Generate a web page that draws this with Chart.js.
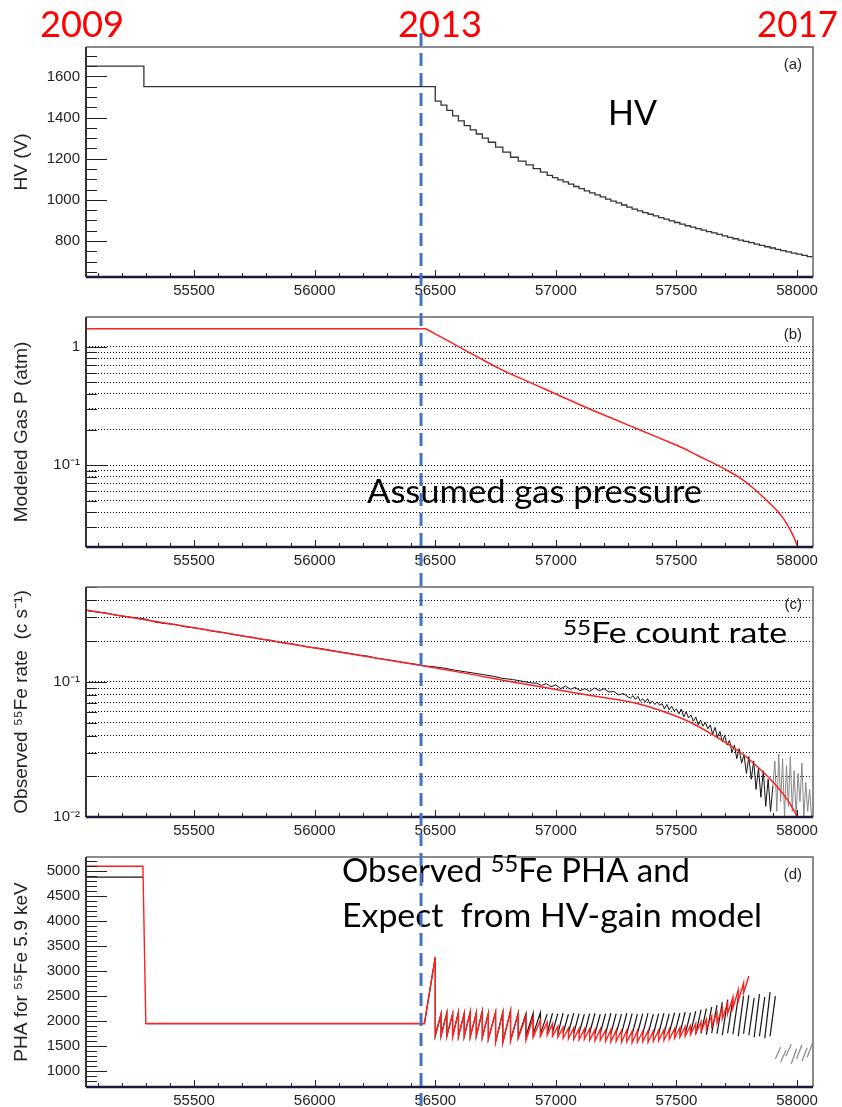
<!DOCTYPE html>
<html>
<head>
<meta charset="utf-8">
<script src="https://cdn.jsdelivr.net/npm/chart.js@4.4.1/dist/chart.umd.min.js"></script>
<style>
  html, body { margin: 0; padding: 0; background: #fff; overflow: hidden; }
  #page { position: relative; width: 842px; height: 1107px; }
  #page canvas { position: absolute; left: 0; }
  #overlay { top: 0; pointer-events: none; }
</style>
</head>
<body>
<div id="page">
  <canvas id="hvChart" width="842" height="270" style="top:32px"></canvas>
  <canvas id="gasChart" width="842" height="270" style="top:302px"></canvas>
  <canvas id="rateChart" width="842" height="270" style="top:572px"></canvas>
  <canvas id="phaChart" width="842" height="270" style="top:842px"></canvas>
  <canvas id="overlay" width="842" height="1107"></canvas>
</div>
<script>
// 공통 x축 (MJD)
var mjdMin = 55052, mjdMax = 58066;
var mjdTicks = [55500, 56000, 56500, 57000, 57500, 58000];
var leakStartMjd = 56441; // 파란 점선 (2013)

// (a) HV
var hvStartMjd = [55052, 55292];
var hvStartVolt = [1650, 1550];
var gainStepMjd = [56500, 56524, 56548, 56572, 56596, 56620, 56645, 56670, 56695, 56720,
  56750, 56780, 56812, 56844, 56876, 56906, 56936, 56964, 56986, 57008,
  57030, 57052, 57074, 57096, 57118, 57140, 57162, 57184, 57206, 57228,
  57250, 57272, 57294, 57316, 57338, 57360, 57382, 57404, 57426, 57448,
  57470, 57492, 57514, 57536, 57558, 57580, 57602, 57624, 57646, 57668,
  57690, 57712, 57734, 57756, 57778, 57800, 57822, 57844, 57866, 57888,
  57910, 57932, 57954, 57976, 57998, 58020, 58042, 58064];
var hvStepVolt = [1480, 1460, 1435, 1408, 1384, 1361, 1340, 1320, 1300, 1280,
  1256, 1232, 1207, 1188, 1170, 1152, 1135, 1119, 1108, 1097,
  1087, 1076, 1065, 1055, 1044, 1034, 1024, 1014, 1004, 994,
  985, 975, 965, 955, 946, 938, 930, 922, 914, 906,
  898, 890, 882, 874, 867, 860, 853, 846, 839, 832,
  825, 818, 811, 804, 798, 792, 785, 779, 772, 766,
  759, 753, 747, 741, 736, 730, 724, 720];
var hvTicks = [800, 1000, 1200, 1400, 1600];

// (b) 가스 압력 모델
var gasMjd = [55052, 56461, 56565, 56680, 56772, 56880, 56993, 57131, 57230, 57324, 57420, 57504,
  57590, 57670, 57720, 57766, 57810, 57849, 57885, 57918, 57945, 57966, 57985, 58003];
var gasAtm = [1.42, 1.42, 1.088, 0.81, 0.645, 0.513, 0.405, 0.304, 0.250, 0.208, 0.1725, 0.1466,
  0.120, 0.100, 0.088, 0.0774, 0.066, 0.0563, 0.048, 0.041, 0.035, 0.0298, 0.025, 0.0203];
var gasGridAtm = [0.03, 0.04, 0.05, 0.06, 0.07, 0.08, 0.09, 0.1, 0.2, 0.3, 0.4, 0.5, 0.6, 0.7, 0.8, 0.9, 1];
var gasLabelAtm = [0.1, 1];
var gasLabelText = ['10⁻¹', '1'];

// (c) 55Fe count rate
var rateModelMjd = [55052, 55500, 56000, 56441, 56634, 56814, 56966, 57131, 57324, 57449, 57559,
  57656, 57766, 57877, 57940, 57975, 58003];
var rateModelVal = [0.340, 0.251, 0.178, 0.132, 0.115, 0.100, 0.090, 0.080, 0.070, 0.060, 0.050,
  0.040, 0.030, 0.020, 0.0150, 0.0122, 0.0099];
var rateObsMjd = [55060, 55100, 55140, 55180, 55220, 55260, 55300, 55340, 55380, 55420,
  55460, 55500, 55540, 55580, 55620, 55660, 55700, 55740, 55780, 55820,
  55860, 55900, 55940, 55980, 56020, 56060, 56100, 56140, 56180, 56220,
  56260, 56300, 56340, 56380, 56420,
  56460, 56500, 56540, 56580, 56620, 56660, 56700, 56740, 56780, 56820, 56860, 56900,
  56920, 56940, 56960, 56980, 57000, 57020, 57040, 57060, 57080, 57100,
  57120, 57140, 57160, 57180, 57200, 57220, 57240, 57260, 57280, 57300,
  57310, 57320, 57330, 57340, 57350, 57360, 57370, 57380, 57390, 57400,
  57410, 57420, 57430, 57440, 57450, 57460, 57470, 57480, 57490, 57500,
  57510, 57520, 57530, 57540, 57550, 57560, 57570, 57580, 57590, 57600,
  57610, 57620, 57630, 57640, 57650, 57660, 57670, 57680, 57690, 57700,
  57710, 57720, 57730, 57740, 57750, 57760, 57770, 57780, 57790, 57800,
  57810, 57820, 57830, 57840, 57850, 57860, 57870, 57880, 57890, 57900];
var rateObsVal = [0.335, 0.328, 0.322, 0.310, 0.304, 0.297, 0.291, 0.276, 0.270, 0.266,
  0.256, 0.251, 0.245, 0.236, 0.232, 0.225, 0.218, 0.214, 0.206, 0.203,
  0.195, 0.192, 0.186, 0.180, 0.177, 0.172, 0.167, 0.163, 0.158, 0.155,
  0.149, 0.146, 0.142, 0.138, 0.135,
  0.131, 0.129, 0.126, 0.122, 0.119, 0.116, 0.113, 0.110, 0.106, 0.104, 0.101, 0.098,
  0.098, 0.094, 0.097, 0.092, 0.095, 0.089, 0.093, 0.088, 0.091, 0.086,
  0.089, 0.085, 0.090, 0.086, 0.089, 0.084, 0.085, 0.080, 0.082, 0.077,
  0.076, 0.079, 0.074, 0.078, 0.072, 0.075, 0.071, 0.075, 0.069, 0.072,
  0.068, 0.071, 0.067, 0.069, 0.063, 0.068, 0.062, 0.066, 0.061, 0.063,
  0.058, 0.063, 0.055, 0.060, 0.054, 0.057, 0.051, 0.055, 0.048, 0.052,
  0.047, 0.050, 0.045, 0.048, 0.041, 0.046, 0.039, 0.043, 0.036, 0.040,
  0.034, 0.037, 0.030, 0.034, 0.027, 0.032, 0.025, 0.029, 0.021, 0.028,
  0.019, 0.026, 0.016, 0.023, 0.014, 0.022, 0.012, 0.019, 0.011, 0.017];
var rateTailMjd = [57900, 57908, 57916, 57924, 57932, 57940, 57948, 57956, 57964, 57972,
  57980, 57988, 57996, 58004, 58012, 58020, 58028, 58036, 58044, 58052, 58060];
var rateTailVal = [0.017, 0.026, 0.011, 0.029, 0.013, 0.027, 0.010, 0.024, 0.012, 0.028,
  0.011, 0.022, 0.010, 0.021, 0.013, 0.025, 0.010, 0.018, 0.011, 0.016, 0.010];
var rateGridVal = [0.01, 0.02, 0.03, 0.04, 0.05, 0.06, 0.07, 0.08, 0.09, 0.1, 0.2, 0.3, 0.4];
var rateLabelVal = [0.01, 0.1];
var rateLabelText = ['10⁻²', '10⁻¹'];

// (d) PHA
var phaModelLeadMjd = [55052, 55288, 55300, 56455, 56500];
var phaModelLeadVal = [5090, 5090, 1955, 1955, 3280];
var phaModelLow = [1720, 1700, 1710, 1690, 1700, 1690, 1680, 1700, 1680, 1650,
  1580, 1570, 1600, 1660, 1620, 1680, 1700, 1720, 1700, 1680,
  1660, 1650, 1640, 1630, 1640, 1620, 1610, 1620, 1600, 1590,
  1600, 1580, 1590, 1570, 1580, 1590, 1580, 1600, 1610, 1620,
  1640, 1660, 1680, 1700, 1730, 1760, 1800, 1850, 1900, 1970,
  2050, 2150, 2260, 2400, 2560];
var phaModelHigh = [2150, 2160, 2150, 2170, 2160, 2180, 2170, 2190, 2160, 2170,
  2180, 2200, 2150, 2100, 2080, 2020, 1980, 1950, 1900, 1880,
  1860, 1870, 1850, 1840, 1850, 1830, 1840, 1820, 1830, 1820,
  1810, 1820, 1800, 1810, 1800, 1810, 1800, 1820, 1830, 1840,
  1850, 1870, 1890, 1910, 1950, 1990, 2040, 2100, 2170, 2260,
  2360, 2480, 2620, 2760, 2900];
var phaObsLeadMjd = [55052, 55288, 55294, 55300, 56455, 56500];
var phaObsLeadVal = [4870, 4870, null, 1950, 1950, 3280];
var phaObsLow = [1700, 1720, 1700, 1710, 1690, 1700, 1690, 1710, 1670, 1640,
  1590, 1580, 1620, 1680, 1700, 1740, 1750, 1760, 1770, 1750,
  1760, 1770, 1750, 1760, 1740, 1760, 1750, 1760, 1740, 1750,
  1760, 1740, 1750, 1730, 1750, 1740, 1750, 1730, 1750, 1740,
  1760, 1740, 1750, 1730, 1750, 1740, 1760, 1730, 1760, 1750,
  1720, 1760, 1740, 1700, 1750, 1720, 1680, 1700, 1660, 1700];
var phaObsHigh = [2140, 2170, 2140, 2180, 2150, 2190, 2160, 2200, 2150, 2180,
  2170, 2210, 2160, 2150, 2160, 2170, 2140, 2160, 2150, 2160,
  2140, 2160, 2150, 2140, 2150, 2160, 2140, 2150, 2160, 2150,
  2140, 2160, 2150, 2140, 2150, 2160, 2140, 2150, 2160, 2150,
  2170, 2160, 2180, 2170, 2200, 2230, 2250, 2280, 2320, 2380,
  2430, 2450, 2480, 2500, 2520, 2460, 2540, 2480, 2580, 2500];
var phaTailLow = [1250, 1180, 1300, 1150, 1250, 1200, 1280];
var phaTailHigh = [1480, 1420, 1540, 1450, 1530, 1470, 1560];
var phaTicks = [1000, 1500, 2000, 2500, 3000, 3500, 4000, 4500, 5000];

Chart.defaults.font.family = '"Liberation Sans", Arial, sans-serif';
Chart.defaults.color = '#222';

function zip(xs, ys) {
    return xs.map(function (x, i) { return {x: x, y: ys[i]}; });
}

// 톱니 모양: 스텝 시작 low -> 다음 스텝 직전 high
function teeth(first, low, high) {
    var pts = [];
    low.forEach(function (v, i) {
        pts.push({x: gainStepMjd[first + i], y: v});
        pts.push({x: gainStepMjd[first + i + 1], y: high[i]});
    });
    return pts;
}

function pickLabel(vals, texts) {
    return function (v) {
        for (var i = 0; i < vals.length; i++) {
            if (Math.abs(vals[i] - v) < vals[i] * 1e-6) return texts[i];
        }
        return '';
    };
}

function xScale() {
    return {
        type: 'linear', min: mjdMin, max: mjdMax,
        afterBuildTicks: function (s) { s.ticks = mjdTicks.map(function (v) { return {value: v}; }); },
        afterFit: function (s) { s.height = 25; },
        grid: {display: false, drawTicks: false},
        border: {display: false},
        ticks: {autoSkip: false, maxRotation: 0, padding: 5, font: {size: 15}, color: '#222',
            callback: function (v) { return String(v); }}
    };
}

function yScale(type, min, max, tickVals, labelFn, title, dotted) {
    return {
        type: type, min: min, max: max,
        afterBuildTicks: function (s) { s.ticks = tickVals.map(function (v) { return {value: v}; }); },
        afterFit: function (s) { s.width = 86; },
        grid: {display: dotted, color: '#000', lineWidth: 1, drawTicks: false},
        border: {display: false, dash: [1, 2]},
        ticks: {autoSkip: false, padding: 6, font: {size: 15}, color: '#222', callback: labelFn},
        title: {display: true, text: title, font: {size: 19}, color: '#222', padding: {top: 10, bottom: 0}}
    };
}

// 프레임 + 안쪽 눈금 + 패널 라벨
var frameTicks = {
    id: 'frameTicks',
    afterDraw: function (chart, args, opts) {
        var ctx = chart.ctx, a = chart.chartArea, x = chart.scales.x, y = chart.scales.y;
        var marks = [], v;
        if (opts.log) {
            for (var e = Math.floor(Math.log10(y.min)); e <= Math.ceil(Math.log10(y.max)); e++) {
                for (var k = 1; k <= 9; k++) {
                    v = k * Math.pow(10, e);
                    if (v >= y.min && v <= y.max) marks.push({v: v, major: k === 1});
                }
            }
        } else {
            for (v = Math.ceil(y.min / opts.minor) * opts.minor; v <= y.max; v += opts.minor) {
                marks.push({v: v, major: v % opts.major === 0});
            }
        }
        ctx.save();
        ctx.strokeStyle = '#222';
        ctx.lineWidth = 1;
        ctx.beginPath();
        for (v = Math.ceil(x.min / 100) * 100; v <= x.max; v += 100) {
            var px = Math.round(x.getPixelForValue(v)) + 0.5;
            ctx.moveTo(px, a.bottom);
            ctx.lineTo(px, a.bottom - (v % 500 === 0 ? 7 : 4));
        }
        marks.forEach(function (m) {
            var py = Math.round(y.getPixelForValue(m.v)) + 0.5;
            ctx.moveTo(a.left, py);
            ctx.lineTo(a.left + (m.major ? 21 : 11), py);
        });
        ctx.stroke();

        ctx.lineWidth = 1.5;
        ctx.strokeStyle = '#666';
        ctx.beginPath();
        ctx.moveTo(a.left, a.top);
        ctx.lineTo(a.right, a.top);
        ctx.lineTo(a.right, a.bottom);
        ctx.stroke();
        ctx.lineWidth = 2;
        ctx.strokeStyle = '#333';
        ctx.beginPath();
        ctx.moveTo(a.left, a.top);
        ctx.lineTo(a.left, a.bottom);
        ctx.stroke();
        ctx.lineWidth = 2.5;
        ctx.strokeStyle = '#1a1a3c';
        ctx.beginPath();
        ctx.moveTo(a.left, a.bottom);
        ctx.lineTo(a.right, a.bottom);
        ctx.stroke();

        ctx.fillStyle = '#222';
        ctx.font = '15px "Liberation Sans", Arial, sans-serif';
        ctx.textAlign = 'right';
        ctx.fillText(opts.label, a.right - 11, a.top + 22);
        ctx.restore();
    }
};

function baseOptions(frame) {
    return {
        responsive: false,
        animation: false,
        devicePixelRatio: 1,
        layout: {padding: {top: 10, right: 29, left: 0, bottom: 0}},
        elements: {point: {radius: 0}, line: {tension: 0}},
        plugins: {legend: {display: false}, tooltip: {enabled: false}, frameTicks: frame}
    };
}

// (a) HV
var hvOpts = baseOptions({label: '(a)', minor: 50, major: 200});
hvOpts.scales = {
    x: xScale(),
    y: yScale('linear', 625, 1743, hvTicks, function (v) { return String(v); }, 'HV (V)', false)
};
var hvChart = new Chart(document.getElementById('hvChart'), {
    type: 'line',
    data: {datasets: [{
        data: zip(hvStartMjd.concat(gainStepMjd), hvStartVolt.concat(hvStepVolt)),
        borderColor: '#333', borderWidth: 1.3, stepped: true
    }]},
    options: hvOpts,
    plugins: [frameTicks]
});

// (b) 가스 압력 (누설 시작점에서 꺾임)
var gasOpts = baseOptions({label: '(b)', log: true});
gasOpts.scales = {
    x: xScale(),
    y: yScale('logarithmic', 0.02035, 1.785, gasGridAtm, pickLabel(gasLabelAtm, gasLabelText), 'Modeled Gas P (atm)', true)
};
var gasChart = new Chart(document.getElementById('gasChart'), {
    type: 'line',
    data: {datasets: [
        {data: zip(gasMjd.slice(0, 2), gasAtm.slice(0, 2)), borderColor: '#ff2020', borderWidth: 1.5},
        {data: zip(gasMjd.slice(1), gasAtm.slice(1)), borderColor: '#ff2020', borderWidth: 1.5,
            cubicInterpolationMode: 'monotone'}
    ]},
    options: gasOpts,
    plugins: [frameTicks]
});

// (c) 계수율
var rateOpts = baseOptions({label: '(c)', log: true});
rateOpts.scales = {
    x: xScale(),
    y: yScale('logarithmic', 0.01, 0.503, rateGridVal, pickLabel(rateLabelVal, rateLabelText), 'Observed ⁵⁵Fe rate  (c s⁻¹)', true)
};
var rateChart = new Chart(document.getElementById('rateChart'), {
    type: 'line',
    data: {datasets: [
        {data: zip(rateModelMjd, rateModelVal), borderColor: '#ff2020', borderWidth: 1.5, cubicInterpolationMode: 'monotone'},
        {data: zip(rateObsMjd, rateObsVal), borderColor: '#111', borderWidth: 1},
        {data: zip(rateTailMjd, rateTailVal), borderColor: '#888', borderWidth: 1}
    ]},
    options: rateOpts,
    plugins: [frameTicks]
});

// (d) PHA
var hideDrop = function (after) {
    return function (c) {
        var x0 = c.p0.parsed.x, x1 = c.p1.parsed.x;
        return (x0 === x1 && x0 > after) ? 'rgba(0,0,0,0)' : undefined;
    };
};
var phaOpts = baseOptions({label: '(d)', minor: 100, major: 500});
phaOpts.scales = {
    x: xScale(),
    y: yScale('linear', 688, 5273, phaTicks, function (v) { return String(v); }, 'PHA for ⁵⁵Fe 5.9 keV', false)
};
var phaChart = new Chart(document.getElementById('phaChart'), {
    type: 'line',
    data: {datasets: [
        {data: zip(phaModelLeadMjd, phaModelLeadVal).concat(teeth(0, phaModelLow, phaModelHigh)),
            borderColor: '#ff2020', borderWidth: 1.4},
        {data: zip(phaObsLeadMjd, phaObsLeadVal).concat(teeth(0, phaObsLow, phaObsHigh)),
            borderColor: '#111', borderWidth: 1.2, spanGaps: false,
            segment: {borderColor: hideDrop(56950)}},
        {data: teeth(60, phaTailLow, phaTailHigh),
            borderColor: '#888', borderWidth: 1.2, segment: {borderColor: hideDrop(0)}}
    ]},
    options: phaOpts,
    plugins: [frameTicks]
});

// 오버레이: 연도, 점선, 설명 텍스트
var ov = document.getElementById('overlay').getContext('2d');

function drawRuns(runs, x, base, size, width, color) {
    var total = 0;
    runs.forEach(function (r) {
        ov.font = (r.sup ? size * 0.72 : size) + 'px Lato, "Open Sans", sans-serif';
        r.w = ov.measureText(r.t).width;
        total += r.w;
    });
    var k = width ? width / total : 1;
    ov.save();
    ov.fillStyle = color || '#000';
    ov.translate(x, base);
    ov.scale(k, 1);
    var cx = 0;
    runs.forEach(function (r) {
        ov.font = (r.sup ? size * 0.72 : size) + 'px Lato, "Open Sans", sans-serif';
        ov.fillText(r.t, cx, r.sup ? -size * 0.3 : 0);
        cx += r.w;
    });
    ov.restore();
}

drawRuns([{t: '2009'}], 40, 37, 36, 84, '#ff0000');
drawRuns([{t: '2013'}], 398, 37, 36, 84, '#ff0000');
drawRuns([{t: '2017'}], 757, 37, 36, 81, '#ff0000');

drawRuns([{t: 'HV'}], 608, 125, 35, 49);
drawRuns([{t: 'Assumed gas pressure'}], 367, 503, 33, 335);
drawRuns([{t: '55', sup: true}, {t: 'Fe count rate'}], 563, 643, 28, 224);
drawRuns([{t: 'Observed '}, {t: '55', sup: true}, {t: 'Fe PHA and'}], 342, 882, 32, 348);
drawRuns([{t: 'Expect  from HV-gain model'}], 342, 927, 32, 420);

var dashX = hvChart.scales.x.getPixelForValue(leakStartMjd);
ov.save();
ov.strokeStyle = '#4472c4';
ov.lineWidth = 3;
ov.setLineDash([13, 7]);
ov.beginPath();
ov.moveTo(dashX, 33);
ov.lineTo(dashX, 1107);
ov.stroke();
ov.restore();
</script>
</body>
</html>
